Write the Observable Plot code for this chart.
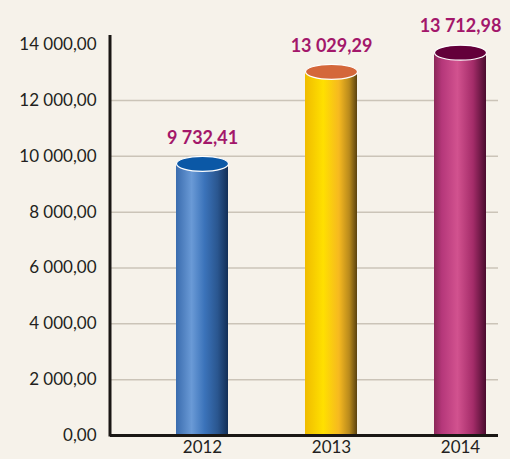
<!DOCTYPE html>
<html>
<head>
<meta charset="utf-8">
<script src="https://cdn.jsdelivr.net/npm/d3@7"></script>
<script src="https://cdn.jsdelivr.net/npm/@observablehq/plot@0.6"></script>
<style>
  html, body { margin: 0; padding: 0; background: #f6f2ea; }
  #chart { width: 510px; height: 459px; }
</style>
</head>
<body>
<div id="chart"></div>
<script>
const years = ["2012", "2013", "2014"];
const values = [9732.41, 13029.29, 13712.98];
const yTicks = [0, 2000, 4000, 6000, 8000, 10000, 12000, 14000];
const gridTicks = [2000, 4000, 6000, 8000, 10000, 12000];

const bodyStops = {
  "2012": [[0, "#3a6cae"], [0.3, "#6a9ad6"], [0.55, "#3b73ba"], [0.8, "#2a568f"], [1, "#132f57"]],
  "2013": [[0, "#f0bc00"], [0.35, "#ffe000"], [0.65, "#f6b920"], [0.85, "#b98a1c"], [1, "#5a4210"]],
  "2014": [[0, "#8a2858"], [0.15, "#b5377a"], [0.45, "#d2528f"], [0.75, "#a42c69"], [1, "#4a0c2e"]]
};
const topColors = { "2012": "#0b58a6", "2013": "#d4673a", "2014": "#63003a" };

const data = years.map((year, i) => ({ year, value: values[i] }));

const locale = d3.formatLocale({ decimal: ",", thousands: " ", grouping: [3], currency: ["", ""] });
const fmt = locale.format(",.2f");

const ellipseSymbol = {
  draw(context) {
    const rx = 26, ry = 7.5, k = 0.5523;
    context.moveTo(rx, 0);
    context.bezierCurveTo(rx, ry * k, rx * k, ry, 0, ry);
    context.bezierCurveTo(-rx * k, ry, -rx, ry * k, -rx, 0);
    context.bezierCurveTo(-rx, -ry * k, -rx * k, -ry, 0, -ry);
    context.bezierCurveTo(rx * k, -ry, rx, -ry * k, rx, 0);
    context.closePath();
  }
};

const plot = Plot.plot({
  width: 510,
  height: 459,
  marginLeft: 110,
  marginRight: 12,
  marginTop: 35,
  marginBottom: 24,
  style: { fontFamily: "Lato, 'Open Sans', sans-serif", background: "#f6f2ea", color: "#231f20" },
  x: { domain: years, range: [137.5, 524.5], paddingInner: 0.6, paddingOuter: 0.3, label: null },
  y: { domain: [0, 14330], label: null },
  color: { type: "identity" },
  marks: [
    Plot.gridY(gridTicks, { stroke: "#cbc4b8", strokeOpacity: 1, strokeWidth: 1.5 }),
    Plot.barY(data, { x: "year", y: "value", fill: d => `url(#body${d.year})` }),
    Plot.dot(data, { x: "year", y: "value", symbol: ellipseSymbol, r: 5, fill: d => topColors[d.year], stroke: "#ffffff", strokeWidth: 1.2 }),
    Plot.text(data, { x: "year", y: "value", text: d => fmt(d.value), dy: -26, fill: "#a3176a", fontWeight: "bold", fontSize: 18 }),
    Plot.axisY(yTicks, { tickSize: 0, tickPadding: 14, fontSize: 17, tickFormat: fmt, label: null }),
    Plot.axisX({ tickSize: 0, tickPadding: 5, fontSize: 17, label: null }),
    Plot.ruleY([0], { stroke: "#1a1714", strokeWidth: 3 })
  ]
});

// gradients
const svg = d3.select(plot);
const defs = svg.insert("defs", ":first-child");
for (const y of years) {
  const g = defs.append("linearGradient").attr("id", "body" + y)
    .attr("x1", "0").attr("x2", "1").attr("y1", "0").attr("y2", "0");
  for (const [o, c] of bodyStops[y]) g.append("stop").attr("offset", o).attr("stop-color", c);
}

// vertical axis line
const ys = plot.scale("y");
svg.append("line")
  .attr("x1", 110).attr("x2", 110)
  .attr("y1", ys.apply(ys.domain[1])).attr("y2", ys.apply(0) + 1.5)
  .attr("stroke", "#1a1714").attr("stroke-width", 3);

document.getElementById("chart").appendChild(plot);
</script>
</body>
</html>
